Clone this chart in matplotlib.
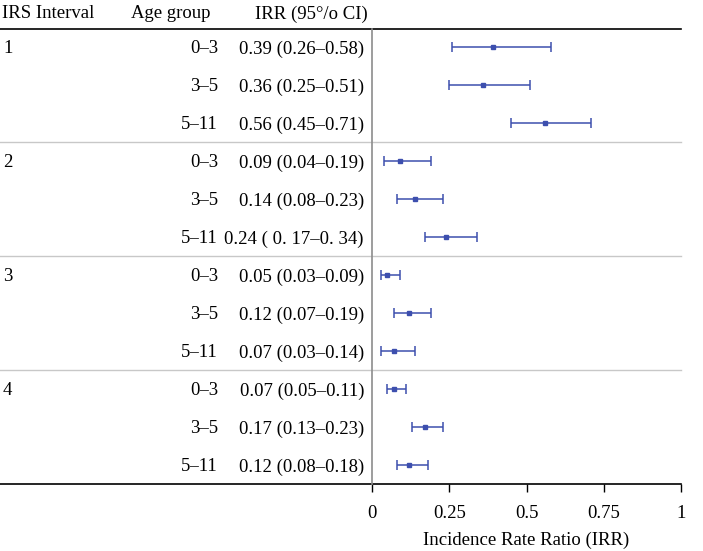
import matplotlib
matplotlib.use("Agg")
import matplotlib.pyplot as plt

plt.rcParams['font.family'] = ['Liberation Serif', 'DejaVu Serif']

# Data
irs_intervals = ['1', '2', '3', '4']
age_groups = ['0–3', '3–5', '5–11'] * 4
irr = [0.39, 0.36, 0.56, 0.09, 0.14, 0.24, 0.05, 0.12, 0.07, 0.07, 0.17, 0.12]
ci_low = [0.26, 0.25, 0.45, 0.04, 0.08, 0.17, 0.03, 0.07, 0.03, 0.05, 0.13, 0.08]
ci_high = [0.58, 0.51, 0.71, 0.19, 0.23, 0.34, 0.09, 0.19, 0.14, 0.11, 0.23, 0.18]
irr_labels = ['0.39 (0.26–0.58)', '0.36 (0.25–0.51)', '0.56 (0.45–0.71)',
              '0.09 (0.04–0.19)', '0.14 (0.08–0.23)', '0.24 ( 0. 17–0. 34)',
              '0.05 (0.03–0.09)', '0.12 (0.07–0.19)', '0.07 (0.03–0.14)',
              '0.07 (0.05–0.11)', '0.17 (0.13–0.23)', '0.12 (0.08–0.18)']
x_ticks = [0, 0.25, 0.5, 0.75, 1]
x_tick_labels = ['0', '0.25', '0.5', '0.75', '1']

W, H = 703, 551
fig = plt.figure(figsize=(W / 100, H / 100), dpi=100)
ax = fig.add_axes([372 / W, (H - 484) / H, 309 / W, 455 / H])

rows = list(range(len(irr)))
blue = '#3d4fae'
xerr = [[v - lo for v, lo in zip(irr, ci_low)], [hi - v for v, hi in zip(irr, ci_high)]]
ax.errorbar(irr, rows, xerr=xerr, fmt='s', color=blue, ms=2.5, lw=1.1,
            capsize=3.3, capthick=1.1, elinewidth=1.1)

ax.set_xlim(0, 1)
ax.set_ylim(11.5, -0.47)
ax.set_yticks([])
ax.set_xticks(x_ticks)
ax.set_xticklabels(x_tick_labels, fontsize=13.5)
ax.tick_params(axis='x', direction='out', length=6, width=1, pad=9, color='black')
ax.set_xlabel('Incidence Rate Ratio (IRR)', fontsize=13.5, labelpad=7)

for side in ['top', 'right']:
    ax.spines[side].set_visible(False)
ax.spines['left'].set_color('#8c8c8c')
ax.spines['left'].set_linewidth(1.2)
ax.spines['bottom'].set_visible(False)

tr = ax.get_yaxis_transform()
left = -372 / 309
# horizontal rules
ax.plot([left, 1], [-0.47, -0.47], color='black', lw=1.2, transform=tr, clip_on=False)
ax.plot([left, 1], [11.5, 11.5], color='black', lw=1.2, transform=tr, clip_on=False)
for y in [2.5, 5.5, 8.5]:
    ax.plot([left, 1], [y, y], color='#c8c8c8', lw=1, transform=tr, clip_on=False)

fs = 13.5
# headers
hy = -0.92
ax.text((2 - 372) / 309, hy, 'IRS Interval', transform=tr, fontsize=fs, ha='left', va='center_baseline')
ax.text((171 - 372) / 309, hy, 'Age group', transform=tr, fontsize=fs, ha='center', va='center_baseline')
ax.text((311 - 372) / 309, hy, 'IRR (95°/o CI)', transform=tr, fontsize=fs, ha='center', va='center_baseline')

for i, name in enumerate(irs_intervals):
    ax.text((3 - 372) / 309, i * 3, name, transform=tr, fontsize=fs, ha='left', va='center_baseline')

for r in rows:
    ax.text((218 - 372) / 309, r, age_groups[r], transform=tr, fontsize=fs, ha='right', va='center_baseline')
    ax.text((364 - 372) / 309, r, irr_labels[r], transform=tr, fontsize=fs, ha='right', va='center_baseline')

plt.savefig('out.png', dpi=100)
